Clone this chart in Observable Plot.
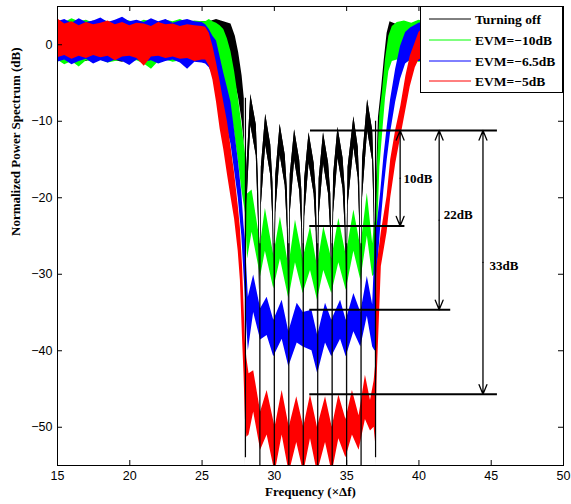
<!DOCTYPE html>
<html>
<head>
<meta charset="utf-8">
<script src="https://cdn.jsdelivr.net/npm/d3@7"></script>
<script src="https://cdn.jsdelivr.net/npm/@observablehq/plot@0.6"></script>
<style>
  html, body { margin: 0; padding: 0; background: #fff; }
  #chart { width: 571px; height: 504px; }
</style>
</head>
<body>
<div id="chart"></div>
<script>
// ---------------- data ----------------
const seriesNames = ["Turning off", "EVM=\u221210dB", "EVM=\u22126.5dB", "EVM=\u22125dB"];
const seriesColors = ["#000000", "#00ff00", "#0000ff", "#ff0000"];

const xTicks = [15, 20, 25, 30, 35, 40, 45, 50];
const yTicks = [-50, -40, -30, -20, -10, 0];

// Red: EVM = -5 dB   (noise envelope: lo / hi in dB)
const redF = [15,15.5,16,16.5,17,17.5,18,18.5,19,19.5,20,20.5,21,21.5,22,22.5,23,23.5,24,24.5,25,
  25.25,25.5,25.75,26,26.25,26.5,26.75,27,27.25,27.5,27.65,27.8,27.9,28.0,28.1,28.25,
  28.57,29.05,29.5,30.05,30.54,31.03,31.55,32.03,32.5,32.98,33.54,34.0,34.46,34.95,35.4,35.86,36.3,36.65,36.9,
  37.0,37.1,37.4,37.8,38.05,38.4,38.75,39.1,39.4,39.75,40.0,40.5,
  41,42,43,44,45,46,47,48,49,50];
const redHi = [3.4,2.7,3.0,2.5,2.9,2.6,2.8,3.1,2.6,2.9,2.5,2.8,2.7,2.4,2.9,2.6,2.7,2.4,2.6,2.5,2.4,
  2.3,1.5,-0.2,-2.4,-4.8,-7.5,-10,-13.3,-16.8,-21,-24,-29,-34,-39,-41,-43,
  -42.6,-48,-45.2,-50,-45.2,-50,-46,-50,-45.8,-50,-46,-50,-45.8,-49,-45.2,-48.5,-43.2,-46.5,-44,
  -42,-29,-24.5,-19.8,-15,-11.1,-8,-4.1,-1.5,0.3,1.6,2.6,
  2.6,2.4,2.8,2.5,2.7,2.5,2.6,2.4,2.7,2.5];
const redLo = [-1.7,-1.4,-1.9,-1.5,-1.8,-1.4,-1.7,-1.5,-2.1,-1.6,-1.5,-1.8,-2.8,-1.6,-1.5,-1.8,-1.6,-1.9,-1.8,-2.2,-2.0,
  -2.0,-2.8,-4.6,-7.5,-11,-13.7,-16.9,-19.9,-22.8,-27,-30.8,-38.5,-43,-49,-51.3,-51,
  -48,-53,-51,-56,-51,-56,-52,-56,-51.5,-56,-52,-56,-51.5,-54,-51,-53,-49,-50.5,-50,
  -52,-44,-29,-24.5,-20,-15.5,-12,-8.5,-5.5,-3,-2,-1.5,
  -1.7,-1.9,-1.6,-1.8,-1.5,-1.9,-1.7,-1.6,-1.8,-1.7];

// Blue: EVM = -6.5 dB
const blueF = [15,15.5,16,16.5,17,17.5,18,18.5,19,19.5,20,20.5,21,21.5,22,22.5,23,23.5,24,24.5,25,
  25.25,25.5,25.75,26.0,26.25,26.5,26.75,27.0,27.25,27.5,27.75,27.9,28.0,28.1,28.2,
  28.57,29.05,29.5,29.96,30.54,31.0,31.58,32.0,32.6,33.0,33.54,33.97,34.58,34.97,35.5,35.98,36.43,36.8,36.95,
  37.0,37.12,37.35,37.58,37.81,38.04,38.39,38.73,39.08,39.42,40,40.5,
  41,42,43,44,45,46,47,48,49,50];
const blueHi = [3.0,3.3,2.8,3.4,2.9,3.1,3.5,2.9,3.2,3.6,3.0,3.2,2.9,3.4,3.0,3.3,2.8,3.1,3.3,3.0,2.9,
  2.6,2.0,1.1,0.5,-1.6,-3.7,-5.6,-7.5,-11.2,-15.0,-19.4,-23.6,-25.5,-29.5,-33,
  -30.1,-34.5,-33,-36,-33.4,-37.5,-33.8,-35,-34.7,-38,-33.8,-36,-33.4,-36,-32.5,-35,-30.3,-34,-27,
  -24.5,-23.5,-19.4,-14.6,-10.7,-7.2,-3.2,-0.2,1.6,2.2,2.8,3.0,
  3.1,2.8,3.3,2.9,3.2,3.0,3.4,2.8,3.1,3.0];
const blueLo = [-2.3,-2.0,-2.6,-2.2,-1.9,-2.5,-2.1,-2.4,-2.0,-2.2,-2.7,-2.0,-2.3,-2.1,-2.5,-2.2,-2.0,-2.4,-3.2,-2.3,-2.4,
  -2.5,-3.0,-4.0,-5.0,-7.0,-9.0,-11,-13,-16.5,-20,-25,-30,-33,-37,-40,
  -35,-38.6,-38,-40.8,-38.5,-42.1,-39,-39.5,-40,-43,-39,-40.8,-38.5,-40.8,-37.5,-39.5,-35.5,-39.5,-40,
  -40,-30,-24,-19,-15,-11.5,-7.5,-4.5,-2.5,-2.0,-2.2,-2.1,
  -2.2,-2.4,-2.0,-2.3,-2.1,-2.5,-2.2,-2.0,-2.4,-2.2];

// Green: EVM = -10 dB
const greenF = [15,15.5,16,16.5,17,17.5,18,18.5,19,19.5,20,20.5,21,21.5,22,22.5,23,23.5,24,24.5,25,
  25.25,25.5,25.75,26.0,26.25,26.5,26.75,27.0,27.25,27.5,27.75,28.0,28.15,
  28.46,29.05,29.38,29.96,30.42,31.0,31.46,31.99,32.5,32.98,33.42,33.97,34.46,34.97,35.5,35.98,36.43,36.8,36.95,
  37.05,37.15,37.3,37.47,37.69,37.92,38.16,38.5,39,39.5,40,40.5,
  41,42,43,44,45,46,47,48,49,50];
const greenHi = [3.2,2.9,3.4,3.0,3.2,2.8,3.3,3.0,2.9,3.3,3.1,2.8,3.2,3.0,2.9,3.2,3.0,3.3,2.9,3.1,3.0,
  3.0,3.3,3.0,2.8,2.5,2.0,0.8,-0.9,-3.5,-6.8,-10.4,-14.2,-19.5,
  -19.0,-26,-21.4,-27.5,-22.5,-29,-22.9,-28,-23.8,-29,-23.8,-28,-22.7,-27.5,-21.6,-26.5,-19.4,-26,-23,
  -24,-15,-9,-6.3,-1.9,1.1,2.4,2.9,3.1,2.8,3.2,3.0,
  3.2,2.9,3.1,3.0,3.3,2.8,3.1,3.0,2.9,3.2];
const greenLo = [-2.0,-2.6,-2.2,-2.9,-2.1,-2.3,-2.0,-2.4,-2.2,-2.0,-2.3,-2.1,-2.5,-3.2,-2.2,-2.0,-2.3,-2.1,-2.4,-2.0,-2.2,
  -2.2,-2.3,-2.5,-2.8,-3.5,-4.5,-6,-8.5,-11.5,-15,-19,-22,-28,
  -24.5,-30.3,-27,-31.9,-28,-33.2,-28.5,-32.5,-29.5,-33.4,-29.5,-32.5,-28.5,-32.1,-27,-30.8,-25,-30.3,-30,
  -31,-24,-16,-12,-7,-3.5,-2.2,-2.0,-2.4,-2.1,-2.3,-2.2,
  -2.1,-2.4,-2.0,-2.2,-2.3,-2.0,-2.5,-2.1,-2.2,-2.0];

// Black: turning off (deep comb with nulls at integer frequencies)
const blackF = [15,15.5,16,16.5,17,17.5,18,18.5,19,19.5,20,20.5,21,21.5,22,22.5,23,23.5,24,24.5,25,
  25.5,26.0,26.5,27.0,27.3,27.53,27.77,27.92,
  28.0,
  28.03,28.1,28.37,28.75,28.9,28.97,29.0,
  29.03,29.1,29.4,29.75,29.9,29.97,30.0,
  30.03,30.1,30.4,30.75,30.9,30.97,31.0,
  31.03,31.1,31.4,31.75,31.9,31.97,32.0,
  32.03,32.1,32.4,32.75,32.9,32.97,33.0,
  33.03,33.1,33.4,33.75,33.9,33.97,34.0,
  34.03,34.1,34.4,34.75,34.9,34.97,35.0,
  35.03,35.1,35.5,35.8,35.9,35.97,36.0,
  36.03,36.1,36.45,36.8,36.9,36.97,37.0,
  37.03,37.2,37.4,37.6,37.8,38.0,38.5,39,39.5,40,40.5,
  41,42,43,44,45,46,47,48,49,50];
const blackHi = [2.8,3.0,2.6,2.9,2.7,3.1,2.7,2.8,3.0,2.6,2.9,2.7,3.0,2.8,2.6,2.9,2.7,2.8,3.0,2.7,3.0,
  3.0,3.3,3.0,2.7,1.1,-1.0,-4.1,-7.0,
  -54,
  -26,-16,-6.5,-10.5,-18,-26,-56,
  -26,-16,-9.1,-13.1,-18,-26,-56,
  -26,-17,-10.4,-14.4,-19,-26,-56,
  -26,-17,-11.1,-15.1,-19,-26,-56,
  -26,-17.5,-11.5,-15.5,-19.5,-26,-56,
  -26,-17.5,-11.5,-15.5,-19.5,-26,-56,
  -26,-17,-10.8,-14.8,-19,-26,-56,
  -26,-16,-9.4,-13.4,-18,-26,-56,
  -26,-15,-7.2,-11.2,-17,-26,-54,
  -20,-9.5,-6,-2,1.5,3.0,2.6,2.9,2.7,3.0,2.8,
  2.7,3.0,2.8,2.6,2.9,2.7,3.0,2.8,2.6,2.9];
const blackLo = [-1.9,-2.1,-1.8,-2.0,-2.2,-1.8,-2.0,-1.9,-2.1,-2.3,-1.9,-2.0,-1.8,-2.2,-2.0,-1.9,-2.1,-2.0,-1.8,-2.0,-2.0,
  -2.0,-2.0,-2.3,-3.0,-5,-7,-10,-13,
  -55,
  -32,-21,-10.5,-14.5,-23,-32,-57,
  -32,-21,-13.1,-17.1,-23,-32,-57,
  -32,-22,-14.4,-18.4,-24,-32,-57,
  -32,-22,-15.1,-19.1,-24,-32,-57,
  -32,-22.5,-15.5,-19.5,-24.5,-32,-57,
  -32,-22.5,-15.5,-19.5,-24.5,-32,-57,
  -32,-22,-14.8,-18.8,-24,-32,-57,
  -32,-21,-13.4,-17.4,-23,-32,-57,
  -32,-20,-11.2,-15.2,-22,-32,-55,
  -26,-15,-11,-7,-3.5,-1.5,-1.8,-2.1,-1.9,-2.2,-2.0,
  -2.0,-1.8,-2.2,-1.9,-2.1,-2.0,-1.8,-2.2,-2.0,-1.9];

// nulls of the "turning off" spectrum (vertical black strokes)
const nullF = [28, 29, 30, 31, 32, 33, 34, 35, 36, 37];
const nullTop = [-7, -26, -26, -26, -26, -26, -26, -26, -26, -10];
const nullBottom = [-54, -56, -56, -56, -56, -56, -56, -56, -56, -54];

// annotation: reference levels and attenuation arrows
const levelY = [-11.2, -23.7, -34.65, -45.7];
const levelX1 = [32.5, 32.45, 32.45, 32.45];
const levelX2 = [45.43, 39.03, 42.2, 45.43];
const arrowX = [38.7, 41.4, 44.43];
const arrowTop = [-11.2, -11.2, -11.2];
const arrowBottom = [-23.7, -34.65, -45.7];
const arrowLabels = ["10dB", "22dB", "33dB"];
const labelX = [38.94, 41.71, 44.89];
const labelY = [-17.5, -22.2, -28.9];

// ---------------- build tables ----------------
const band = (F, Lo, Hi) => F.map((f, i) => ({f, lo: Lo[i], hi: Hi[i]}));
const black = band(blackF, blackLo, blackHi);
const green = band(greenF, greenLo, greenHi);
const blue = band(blueF, blueLo, blueHi);
const red = band(redF, redLo, redHi);
const blackNotch = black.filter(d => d.f >= 27.99 && d.f <= 37.01);
const nulls = nullF.map((f, i) => ({f, top: nullTop[i], bottom: nullBottom[i]}));
const levels = levelY.map((y, i) => ({y, x1: levelX1[i], x2: levelX2[i]}));
const arrows = arrowX.map((x, i) => ({x, top: arrowTop[i], bottom: arrowBottom[i],
  mid: (arrowTop[i] + arrowBottom[i]) / 2, label: arrowLabels[i], lx: labelX[i], ly: labelY[i]}));

const W = 571, H = 504, mL = 57, mR = 8, mT = 6, mB = 39;
const frameW = W - mL - mR, frameH = H - mT - mB;
const serif = "'Liberation Serif', 'Times New Roman', serif";
const sans = "'Liberation Sans', Arial, Helvetica, sans-serif";

const area = (data, fill, extra = {}) =>
  Plot.areaY(data, {x: "f", y1: "lo", y2: "hi", fill, curve: "linear", clip: true, ...extra});

const plot = Plot.plot({
  width: W, height: H,
  marginLeft: mL, marginRight: mR, marginTop: mT, marginBottom: mB,
  x: {domain: [15, 50]},
  y: {domain: [-55, 5]},
  style: {fontFamily: sans, fontSize: "13px", color: "#000", background: "#fff"},
  marks: [
    area(black, seriesColors[0]),
    area(green, seriesColors[1]),
    area(blue, seriesColors[2]),
    area(red, seriesColors[3]),
    area(blackNotch, seriesColors[0]),
    Plot.ruleX(nulls, {x: "f", y1: "bottom", y2: "top", stroke: "#000", strokeWidth: 1.2, clip: true}),
    // frame and inward ticks (MATLAB style box)
    Plot.frame({stroke: "#000", strokeWidth: 1}),
    Plot.ruleX(xTicks, {insetTop: frameH - 5, stroke: "#000"}),
    Plot.ruleX(xTicks, {insetBottom: frameH - 5, stroke: "#000"}),
    Plot.ruleY(yTicks, {insetRight: frameW - 5, stroke: "#000"}),
    Plot.ruleY(yTicks, {insetLeft: frameW - 5, stroke: "#000"}),
    Plot.axisX({ticks: xTicks, tickSize: 0, tickPadding: 6, label: null, fontSize: 12.5}),
    Plot.axisY({ticks: yTicks, tickSize: 0, tickPadding: 5, label: null, fontSize: 12.5}),
    Plot.text(["Normalized Power Spectrum (dB)"], {frameAnchor: "left", dx: -42, rotate: -90,
      fontFamily: serif, fontWeight: "bold", fontSize: 13}),
    Plot.text(["Frequency (\u00d7\u0394f)"], {frameAnchor: "bottom", dy: 30,
      fontFamily: serif, fontWeight: "bold", fontSize: 13}),
    // annotation
    Plot.ruleY(levels, {y: "y", x1: "x1", x2: "x2", stroke: "#000", strokeWidth: 2}),
    Plot.arrow(arrows, {x1: "x", x2: "x", y1: "mid", y2: "top", stroke: "#000", strokeWidth: 1.3,
      headLength: 12, headAngle: 44}),
    Plot.arrow(arrows, {x1: "x", x2: "x", y1: "mid", y2: "bottom", stroke: "#000", strokeWidth: 1.3,
      headLength: 12, headAngle: 44}),
    Plot.text(arrows, {x: "lx", y: "ly", text: "label", textAnchor: "start",
      fontFamily: serif, fontWeight: "bold", fontSize: 13})
  ]
});

// legend box (top right, inside the axes)
const svg = d3.select(plot);
const lg = svg.append("g").attr("class", "legend").attr("text-anchor", "start");
const box = {x: 420.5, y: 6.5, w: 142, h: 86};
lg.append("rect").attr("x", box.x).attr("y", box.y).attr("width", box.w).attr("height", box.h)
  .attr("fill", "#fff").attr("stroke", "#000").attr("stroke-width", 1);
const rowY = [19, 40, 61, 81];
seriesNames.forEach((name, i) => {
  lg.append("line").attr("x1", 429).attr("x2", 471).attr("y1", rowY[i]).attr("y2", rowY[i])
    .attr("stroke", seriesColors[i]).attr("stroke-width", 1);
  lg.append("text").attr("x", 475).attr("y", rowY[i]).attr("dy", "0.35em")
    .attr("text-anchor", "start")
    .attr("font-family", serif).attr("font-weight", "bold").attr("font-size", 13.5)
    .attr("fill", "#000").text(name);
});

document.getElementById("chart").appendChild(plot);
</script>
</body>
</html>
